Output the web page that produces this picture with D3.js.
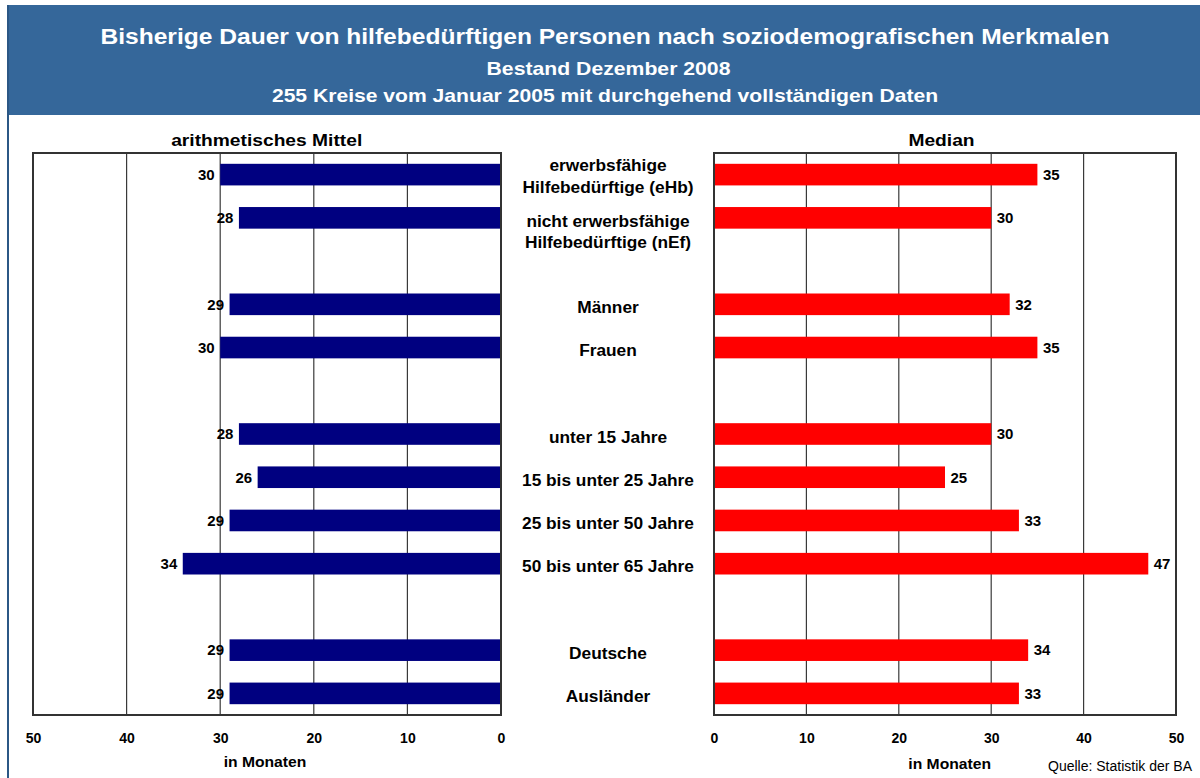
<!DOCTYPE html>
<html><head><meta charset="utf-8">
<script src="https://cdn.jsdelivr.net/npm/d3@7"></script>
<style>body{margin:0;background:#fff}svg{display:block;font-family:"Liberation Sans",Arial,sans-serif}</style>
</head><body>
<svg id="c" width="1200" height="778"></svg>
<script>
const categories = [
  ["erwerbsfähige","Hilfebedürftige (eHb)"],
  ["nicht erwerbsfähige","Hilfebedürftige (nEf)"],
  ["Männer"],
  ["Frauen"],
  ["unter 15 Jahre"],
  ["15 bis unter 25 Jahre"],
  ["25 bis unter 50 Jahre"],
  ["50 bis unter 65 Jahre"],
  ["Deutsche"],
  ["Ausländer"]
];
const rowSlots = [0,1,3,4,6,7,8,9,11,12];
const slotCount = 13;
const meanValues = [30,28,29,30,28,26,29,34,29,29];
const medianValues = [35,30,32,35,30,25,33,47,34,33];
const ticks = [0,10,20,30,40,50];
const titleLines = ["Bisherige Dauer von hilfebedürftigen Personen nach soziodemografischen Merkmalen","Bestand Dezember 2008","255 Kreise vom Januar 2005 mit durchgehend vollständigen Daten"];

const svg = d3.select("#c");
function stretch(sel, f){
  sel.each(function(){
    const L = this.getComputedTextLength();
    this.setAttribute("textLength", (L*f).toFixed(1));
    this.setAttribute("lengthAdjust","spacingAndGlyphs");
  });
  return sel;
}
// header
svg.append("rect").attr("x",7).attr("y",5).attr("width",1193).attr("height",110).attr("fill","#35679A");
svg.append("line").attr("x1",8).attr("x2",8).attr("y1",5).attr("y2",778).attr("stroke","#2B5785").attr("stroke-width",2);
stretch(svg.append("text").attr("x",605).attr("y",43.5).attr("text-anchor","middle").attr("fill","#fff").attr("font-weight","bold").attr("font-size",22).text(titleLines[0]),1.117);
stretch(svg.append("text").attr("x",608.5).attr("y",75).attr("text-anchor","middle").attr("fill","#fff").attr("font-weight","bold").attr("font-size",18.6).text(titleLines[1]),1.14);
stretch(svg.append("text").attr("x",605).attr("y",102).attr("text-anchor","middle").attr("fill","#fff").attr("font-weight","bold").attr("font-size",18.6).text(titleLines[2]),1.135);

const plotTop = 153, plotBottom = 715;
const y = d3.scaleBand().domain(d3.range(slotCount)).range([plotTop,plotBottom]).paddingInner(0.5).paddingOuter(0.25);
const xL = d3.scaleLinear().domain([0,50]).range([501,33]);
const xR = d3.scaleLinear().domain([0,50]).range([714,1176]);

function panel(x, vals, color, side, title, titleX, axisX, axisY){
  const g = svg.append("g");
  const x0 = Math.min(x.range()[0],x.range()[1]), w = Math.abs(x.range()[1]-x.range()[0]);
  g.append("rect").attr("x",x0).attr("y",plotTop).attr("width",w).attr("height",plotBottom-plotTop).attr("fill","#fff");
  g.selectAll(".grid").data(ticks.slice(1,5)).join("line")
    .attr("x1",d=>x(d)).attr("x2",d=>x(d)).attr("y1",plotTop).attr("y2",plotBottom)
    .attr("stroke","#3a3a3a").attr("stroke-width",1.2);
  g.selectAll(".bar").data(vals).join("rect")
    .attr("x",d=>Math.min(x(0),x(d))).attr("width",d=>Math.abs(x(d)-x(0)))
    .attr("y",(d,i)=>y(rowSlots[i])).attr("height",y.bandwidth()).attr("fill",color);
  g.append("rect").attr("x",x0).attr("y",plotTop).attr("width",w).attr("height",plotBottom-plotTop)
    .attr("fill","none").attr("stroke","#333").attr("stroke-width",2);
  g.selectAll(".val").data(vals).join("text")
    .attr("x",d=> side==="left" ? x(d)-5.5 : x(d)+5.5)
    .attr("y",(d,i)=>y(rowSlots[i])+y.bandwidth()/2+5.3)
    .attr("text-anchor", side==="left"?"end":"start")
    .attr("font-size",15).attr("font-weight","bold").attr("fill","#000").text(d=>d);
  const ax = g.append("g").attr("transform",`translate(0,${plotBottom})`)
    .call(d3.axisBottom(x).tickValues(ticks).tickSize(0).tickPadding(18));
  ax.select(".domain").remove();
  ax.selectAll("text").attr("font-size",14).attr("font-weight","bold").attr("fill","#000")
    .attr("font-family","Liberation Sans, Arial, sans-serif");
  stretch(svg.append("text").attr("x",titleX).attr("y",145.7).attr("text-anchor","middle").attr("font-size",16.3).attr("font-weight","bold").text(title),1.18);
  stretch(svg.append("text").attr("x",axisX).attr("y",axisY).attr("text-anchor","middle").attr("font-size",15).attr("font-weight","bold").text("in Monaten"),1.045);
}
panel(xL, meanValues, "#000080", "left", "arithmetisches Mittel", 266.7, 265, 766.7);
panel(xR, medianValues, "#FF0000", "right", "Median", 941.5, 949.7, 769.3);

// category labels
const cg = svg.append("g");
categories.forEach((lines,i)=>{
  const cy = y(rowSlots[i]) + y.bandwidth()/2;
  // the first two-line label is centred on its bar, the others hang from it
  const start = (lines.length>1 && i===0) ? cy - 3.6 : cy + 8.8;
  const t = cg.append("text").attr("x",608).attr("text-anchor","middle").attr("font-size",16).attr("font-weight","bold").attr("fill","#000");
  lines.forEach((l,j)=>{
    stretch(t.append("tspan").attr("x",608).attr("y",start+j*21.6).text(l),1.08);
  });
});
stretch(svg.append("text").attr("x",1192).attr("y",770.5).attr("text-anchor","end").attr("font-size",14).attr("fill","#000").text("Quelle: Statistik der BA"),1.0);
</script>
</body></html>
